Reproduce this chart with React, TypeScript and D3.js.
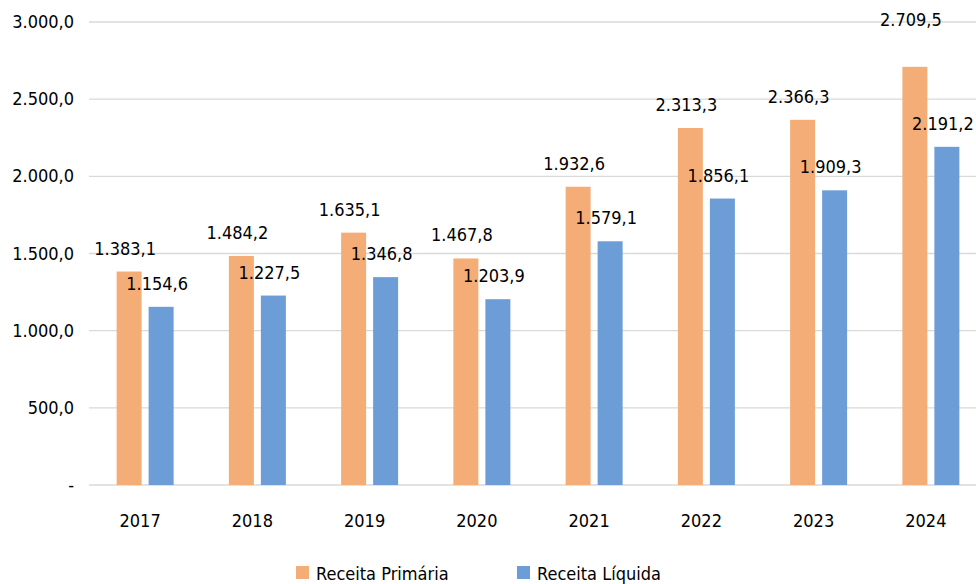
import { useEffect, useRef } from "react";
import * as d3 from "d3";

const years = ["2017", "2018", "2019", "2020", "2021", "2022", "2023", "2024"];
const receitaPrimaria = [1383.1, 1484.2, 1635.1, 1467.8, 1932.6, 2313.3, 2366.3, 2709.5];
const receitaLiquida = [1154.6, 1227.5, 1346.8, 1203.9, 1579.1, 1856.1, 1909.3, 2191.2];
const yTicks = [0, 500, 1000, 1500, 2000, 2500, 3000];
const seriesNames = ["Receita Primária", "Receita Líquida"];

const colors = ["#F5AD78", "#6C9DD6"];
const font = "'Liberation Sans Narrow', 'DejaVu Sans Condensed', sans-serif";

const fmt = (v: number) => {
  if (v === 0) return "-";
  const s = v.toFixed(1);
  const [int, dec] = s.split(".");
  return int.replace(/\B(?=(\d{3})+(?!\d))/g, ".") + "," + dec;
};

export default function App() {
  const ref = useRef<SVGSVGElement | null>(null);
  const width = 976;
  const height = 584;

  useEffect(() => {
    const svg = d3.select(ref.current);
    svg.selectAll("*").remove();

    const left = 89;
    const right = 987;
    const top = 22;
    const bottom = 485;

    const x = d3.scaleBand<string>().domain(years).range([left, right]);
    const y = d3.scaleLinear().domain([0, 3000]).range([bottom, top]);
    const barW = 25;
    const gap = 7;

    // gridlines + y labels
    svg.append("g")
      .selectAll("line")
      .data(yTicks)
      .enter()
      .append("line")
      .attr("x1", left)
      .attr("x2", width)
      .attr("y1", (d) => y(d))
      .attr("y2", (d) => y(d))
      .attr("stroke", "#D9D9D9")
      .attr("stroke-width", 1.3);

    svg.append("g")
      .selectAll("text")
      .data(yTicks)
      .enter()
      .append("text")
      .attr("x", 74)
      .attr("y", (d) => y(d) + 6)
      .attr("text-anchor", "end")
      .attr("font-size", "18px")
      .attr("font-family", font)
      .attr("fill", "#000")
      .text((d) => fmt(d));

    const series = [receitaPrimaria, receitaLiquida];
    series.forEach((vals, si) => {
      const offset = si === 0 ? -gap / 2 - barW : gap / 2;
      const g = svg.append("g");
      g.selectAll("rect")
        .data(vals)
        .enter()
        .append("rect")
        .attr("x", (_, i) => (x(years[i]) as number) + x.bandwidth() / 2 + offset)
        .attr("y", (d) => y(d))
        .attr("width", barW)
        .attr("height", (d) => bottom - y(d))
        .attr("fill", colors[si]);

      // the last orange label sits higher in the original
      g.selectAll("text")
        .data(vals)
        .enter()
        .append("text")
        .attr("x", (_, i) => (x(years[i]) as number) + x.bandwidth() / 2 + offset + barW / 2 - 4)
        .attr("y", (d, i) => y(d) - (si === 0 && i === years.length - 1 ? 41 : 17))
        .attr("text-anchor", "middle")
        .attr("font-size", "18px")
        .attr("font-family", font)
        .attr("fill", "#000")
        .text((d) => fmt(d));
    });

    // x labels
    svg.append("g")
      .selectAll("text")
      .data(years)
      .enter()
      .append("text")
      .attr("x", (d) => (x(d) as number) + x.bandwidth() / 2 - 5)
      .attr("y", 527)
      .attr("text-anchor", "middle")
      .attr("font-size", "18px")
      .attr("font-family", font)
      .attr("fill", "#000")
      .text((d) => d);

    // legend
    const legendX = [296, 517];
    const legend = svg.append("g");
    seriesNames.forEach((name, i) => {
      legend.append("rect")
        .attr("x", legendX[i])
        .attr("y", 566)
        .attr("width", 13)
        .attr("height", 13)
        .attr("fill", colors[i]);
      legend.append("text")
        .attr("x", legendX[i] + 20)
        .attr("y", 580)
        .attr("font-size", "18px")
        .attr("font-family", font)
        .attr("fill", "#000")
        .text(name);
    });
  }, []);

  return (
    <svg
      ref={ref}
      width={width}
      height={height}
      style={{ position: "absolute", left: 0, top: 0, background: "#fff" }}
    />
  );
}
